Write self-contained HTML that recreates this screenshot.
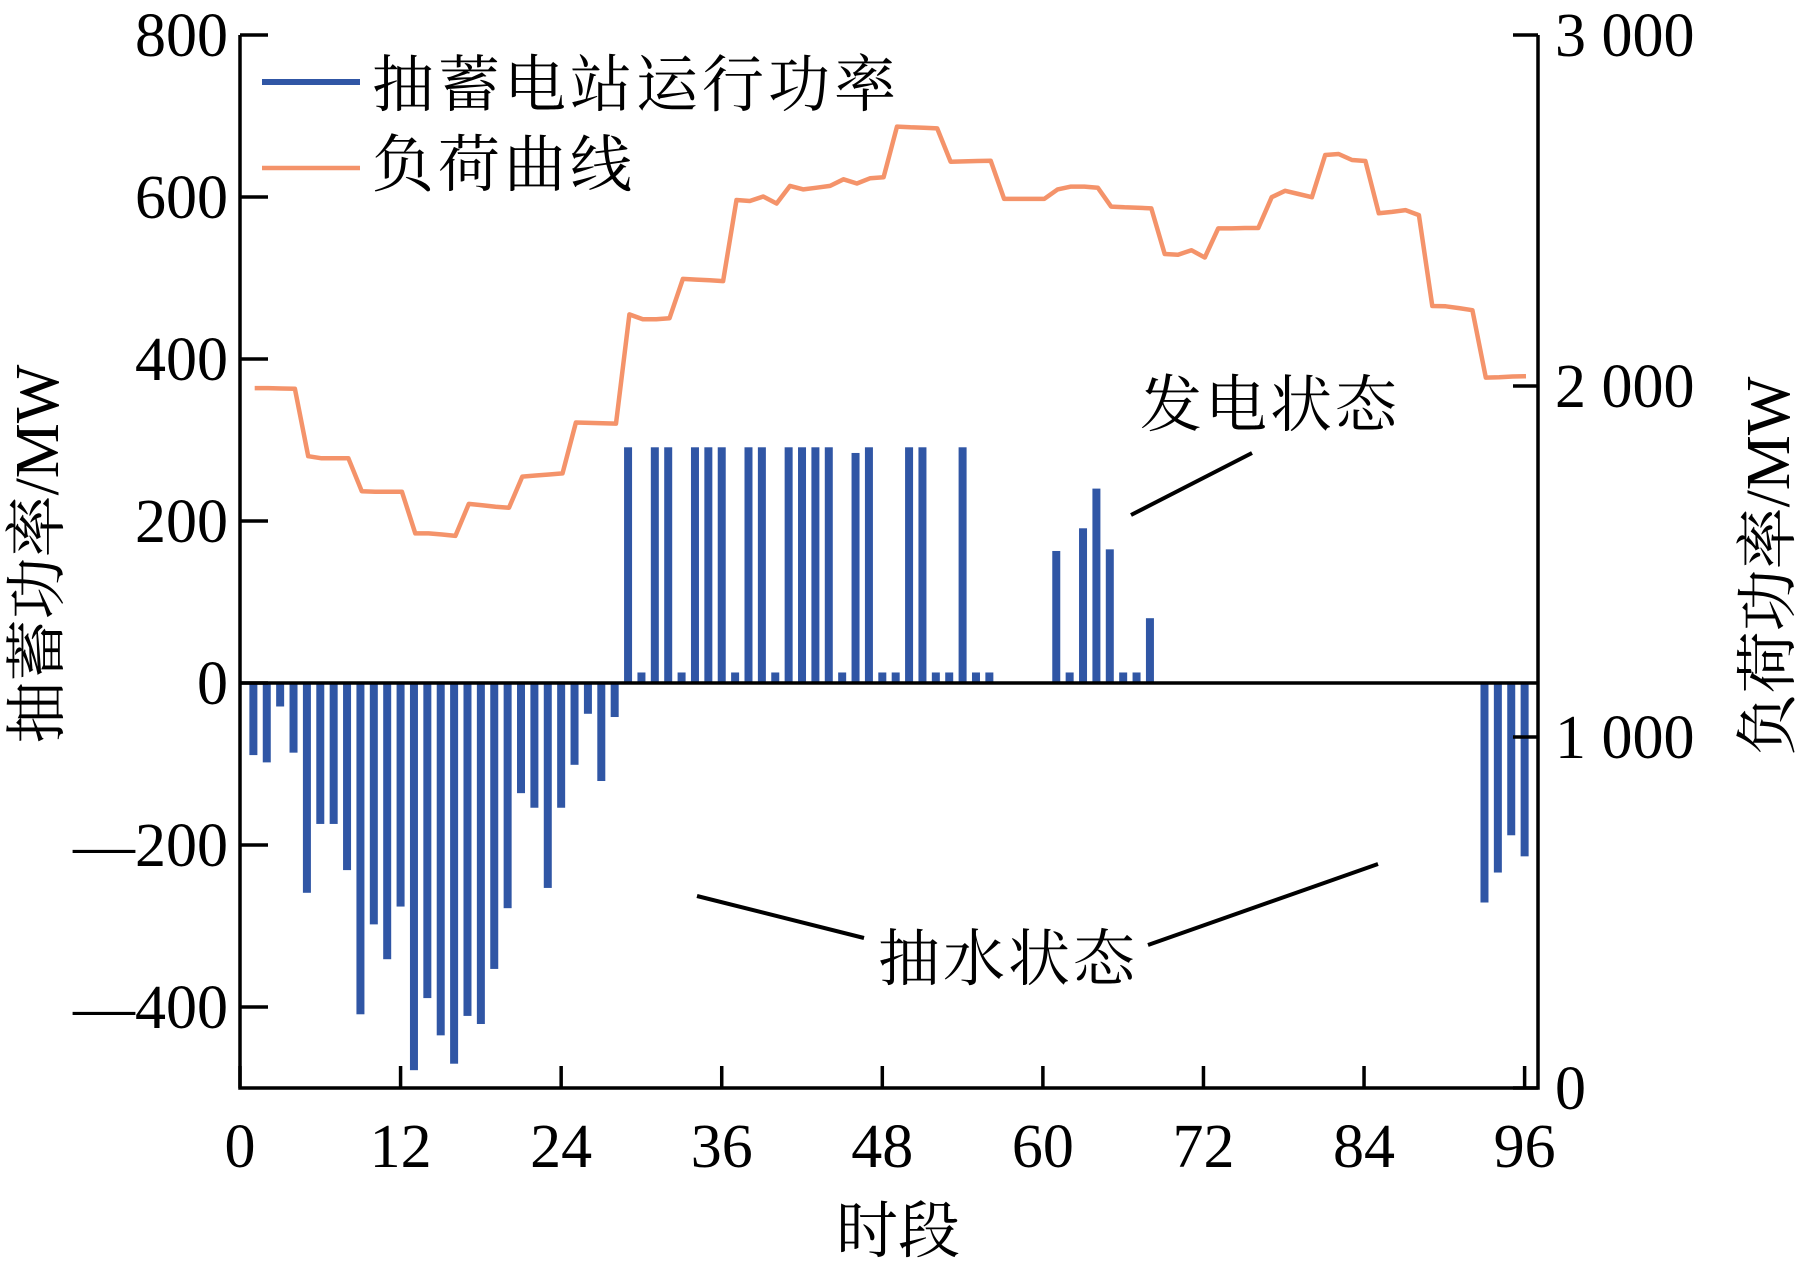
<!DOCTYPE html>
<html><head><meta charset="utf-8"><style>
html,body{margin:0;padding:0;background:#fff;}
svg{display:block;font-family:"Liberation Serif","Noto Serif CJK SC",serif;}
</style></head><body>
<svg id="chart" width="1801" height="1267" viewBox="0 0 1801 1267"></svg>
<script>
const periods = Array.from({length:96},(_,i)=>i+1);
const storagePower = [-89,-98,-29,-86,-259,-174,-174,-231,-409,-298,-341,-276,-478,-389,-435,-470,-411,-421,-353,-278,-136,-154,-253,-154,-101,-38,-121,-42,
291,13,291,291,13,291,291,291,13,291,291,13,291,291,291,291,13,284,291,13,13,291,291,13,13,291,13,13,
0,0,0,0,163,13,191,240,165,13,13,80,
0,0,0,0,0,0,0,0,0,0,0,0,0,0,0,0,0,0,0,0,0,0,0,0,-271,-234,-188,-214];
const loadCurve = [1994,1994,1993,1992,1800,1794,1794,1794,1700,1699,1699,1699,1580,1580,1577,1573,1664,1660,1656,1653,1742,1745,1748,1751,1896,1895,1894,1893,2204,2190,2190,2193,2305,2303,2301,2299,2530,2527,2540,2520,2570,2560,2565,2570,2589,2577,2592,2595,2739,2737,2736,2734,2639,2640,2641,2642,2533,2533,2533,2533,2560,2568,2568,2565,2511,2509,2508,2506,2376,2374,2387,2366,2449,2449,2450,2450,2538,2556,2547,2538,2658,2661,2644,2641,2492,2496,2501,2487,2228,2227,2222,2216,2024,2025,2027,2028];
const xTicks = [0,12,24,36,48,60,72,84,96];
const leftTicks = [800,600,400,200,0,-200,-400];
const leftTickLabels = ["800","600","400","200","0","—200","—400"];
const rightTicks = [3000,2000,1000,0];
const rightTickLabels = ["3 000","2 000","1 000","0"];

const X0=240, X1=1538, YT=35, YB=1088;
const xs = p => X0 + p*(X1-X0)/97;
const yL = v => YB - (v+500)*(YB-YT)/1300;
const yR = v => YB - v*(YB-YT)/3000;
const NS="http://www.w3.org/2000/svg";
const svg=document.getElementById('chart');
function mk(tag,attrs,parent){const e=document.createElementNS(NS,tag);for(const k in attrs)e.setAttribute(k,attrs[k]);(parent||svg).appendChild(e);return e;}

// bars
const gBars=mk('g',{});


periods.forEach((p,i)=>{
  const v=storagePower[i]; if(v===0) return;
  const y0=yL(0), y1=yL(v);
  const r=mk('rect',{x:xs(p)-4,y:Math.min(y0,y1),width:8,height:Math.abs(y1-y0),fill:'#3056A5'},gBars);
  
  
});
// load line
const pts=periods.map((p,i)=>xs(p+0.1).toFixed(1)+','+yR(loadCurve[i]).toFixed(1)).join(' ');
const ln=mk('polyline',{points:pts,fill:'none',stroke:'#F4936A','stroke-width':4.5,'stroke-linejoin':'round'});



// zero line and axes
const z=mk('line',{x1:X0,x2:X1,y1:yL(0),y2:yL(0),stroke:'#000','stroke-width':3.5});


const ax=mk('path',{d:`M${X0},${YT} L${X0},${YB} L${X1},${YB} L${X1},${YT}`,fill:'none',stroke:'#000','stroke-width':3.5});



leftTicks.forEach((v,i)=>{
  const y=yL(v);
  const t=mk('line',{x1:X0,x2:X0+28,y1:y,y2:y,stroke:'#000','stroke-width':3.5});
  
  
  const tx=mk('text',{x:228,y:y+21,'text-anchor':'end','font-size':62});
  tx.textContent=leftTickLabels[i];
  
  
});
rightTicks.forEach((v,i)=>{
  const y=yR(v);
  const t=mk('line',{x1:X1-25,x2:X1,y1:y,y2:y,stroke:'#000','stroke-width':3.5});
  
  
  const tx=mk('text',{x:1555,y:y+21,'font-size':62});
  tx.textContent=rightTickLabels[i];
  
  
});
xTicks.forEach(v=>{
  const x=xs(v);
  const t=mk('line',{x1:x,x2:x,y1:YB-22,y2:YB,stroke:'#000','stroke-width':3.5});
  
  
  const tx=mk('text',{x:x,y:1167,'text-anchor':'middle','font-size':62});
  tx.textContent=String(v);
  
  
});
</script>
<script>
(function(){
const svg=document.getElementById('chart');
const NS="http://www.w3.org/2000/svg";
function mk(tag,attrs){const e=document.createElementNS(NS,tag);for(const k in attrs)e.setAttribute(k,attrs[k]);svg.appendChild(e);return e;}
let e;
e=mk('line',{x1:262,x2:360,y1:82,y2:82,stroke:'#3056A5','stroke-width':6});


e=mk('text',{x:372,y:106,'font-size':62,'letter-spacing':4});
e.textContent='抽蓄电站运行功率';


e=mk('line',{x1:262,x2:360,y1:168,y2:168,stroke:'#F4936A','stroke-width':4.5});


e=mk('text',{x:372,y:186,'font-size':62,'letter-spacing':4});
e.textContent='负荷曲线';


e=mk('text',{x:1140,y:426,'font-size':62,'letter-spacing':3});
e.textContent='发电状态';


e=mk('line',{x1:1131,y1:515,x2:1252,y2:453,stroke:'#000','stroke-width':4});


e=mk('text',{x:878,y:980,'font-size':62,'letter-spacing':3});
e.textContent='抽水状态';


e=mk('line',{x1:697,y1:896,x2:864,y2:938,stroke:'#000','stroke-width':4});


e=mk('line',{x1:1148,y1:945,x2:1378,y2:864,stroke:'#000','stroke-width':4});


e=mk('text',{x:0,y:0,'font-size':62,'text-anchor':'middle',transform:'translate(58,554) rotate(-90)'});
e.textContent='抽蓄功率/MW';


e=mk('text',{x:0,y:0,'font-size':62,'text-anchor':'middle',transform:'translate(1789,566) rotate(-90)'});
e.textContent='负荷功率/MW';


e=mk('text',{x:898,y:1252,'font-size':62,'text-anchor':'middle'});
e.textContent='时段';


})();
</script>
</body></html>
